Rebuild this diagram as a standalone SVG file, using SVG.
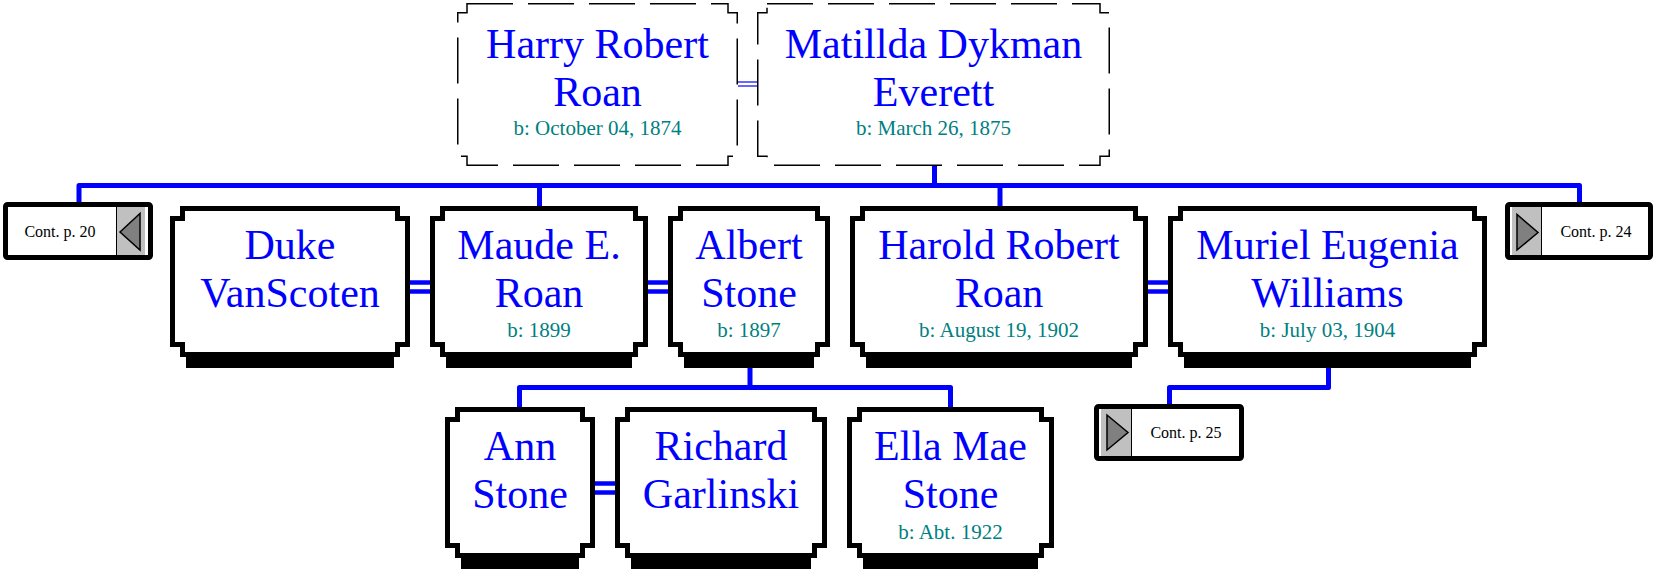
<svg xmlns="http://www.w3.org/2000/svg" width="1655" height="572" viewBox="0 0 1655 572">
<style>
.bx{fill:#fff;stroke:#000;stroke-width:5;stroke-linejoin:miter}
.dbx{fill:#fff;stroke:#000;stroke-width:1.5;stroke-dasharray:46 15}
.sh{fill:#000}
.nm{font-family:"Liberation Serif","Times New Roman",serif;font-size:42px;fill:#0000ff;text-anchor:middle}
.dt{font-family:"Liberation Serif","Times New Roman",serif;font-size:21px;fill:#008080;text-anchor:middle}
.ct{font-family:"Liberation Serif","Times New Roman",serif;font-size:16px;fill:#000;text-anchor:middle}
.cb{fill:#fff;stroke:#000;stroke-width:5}
.gr{fill:#c0c0c0}
.tri{fill:#808080;stroke:#000;stroke-width:1.5}
.ln{fill:none;stroke:#0000ff;stroke-width:5;stroke-linejoin:round}
.mr{fill:none;stroke:#0000ff;stroke-width:4.5}
.mt{fill:none;stroke:#0000ff;stroke-width:1.2}
</style>
<g id="connectors">
<polyline class="ln" points="79,202 79,185.5 1579.5,185.5 1579.5,202"/>
<line class="ln" x1="934.5" y1="166" x2="934.5" y2="185.5"/>
<line class="ln" x1="539.5" y1="185.5" x2="539.5" y2="206"/>
<line class="ln" x1="1000" y1="185.5" x2="1000" y2="206"/>
<line class="ln" x1="750" y1="368" x2="750" y2="387.5"/>
<polyline class="ln" points="519.5,407 519.5,387.5 950.5,387.5 950.5,407"/>
<polyline class="ln" points="1328.5,368 1328.5,387.5 1169.5,387.5 1169.5,404"/>
<line class="mt" x1="738" y1="82" x2="757" y2="82"/>
<line class="mt" x1="738" y1="86" x2="757" y2="86"/>
<line class="mr" x1="410" y1="282.5" x2="430" y2="282.5"/>
<line class="mr" x1="410" y1="291.5" x2="430" y2="291.5"/>
<line class="mr" x1="648" y1="282.5" x2="668" y2="282.5"/>
<line class="mr" x1="648" y1="291.5" x2="668" y2="291.5"/>
<line class="mr" x1="1148" y1="282.5" x2="1168" y2="282.5"/>
<line class="mr" x1="1148" y1="291.5" x2="1168" y2="291.5"/>
<line class="mr" x1="595" y1="483.5" x2="615" y2="483.5"/>
<line class="mr" x1="595" y1="492.5" x2="615" y2="492.5"/>
</g>
<g id="harry">
<path class="dbx" d="M467,3.75 H728 V12.75 H737.25 V156.25 H728 V165.25 H467 V156.25 H457.75 V12.75 H467 Z"/>
<text class="nm" x="597.5" y="58">Harry Robert</text>
<text class="nm" x="597.5" y="106">Roan</text>
<text class="dt" x="597.5" y="135">b: October 04, 1874</text>
</g>
<g id="matilda">
<path class="dbx" d="M767,3.75 H1100 V12.75 H1109.25 V156.25 H1100 V165.25 H767 V156.25 H757.75 V12.75 H767 Z"/>
<text class="nm" x="933.5" y="58">Matillda Dykman</text>
<text class="nm" x="933.5" y="106">Everett</text>
<text class="dt" x="933.5" y="135">b: March 26, 1875</text>
</g>
<g id="cont20">
<rect class="cb" x="5.5" y="204.5" width="145" height="53" rx="2"/>
<rect class="gr" x="116" y="207" width="29" height="48"/>
<line x1="116.5" y1="207" x2="116.5" y2="255" stroke="#000" stroke-width="1"/>
<polygon class="tri" points="120,232 140,213.5 140,250"/>
<text class="ct" x="60" y="237">Cont. p. 20</text>
</g>
<g id="duke">
<rect class="sh" x="186" y="351" width="208" height="17"/>
<path class="bx" d="M182.5,208.5 H397.5 V218.5 H407.5 V344.5 H397.5 V354.5 H182.5 V344.5 H172.5 V218.5 H182.5 Z"/>
<text class="nm" x="290" y="259">Duke</text>
<text class="nm" x="290" y="307">VanScoten</text>
</g>
<g id="maude">
<rect class="sh" x="446" y="351" width="186" height="17"/>
<path class="bx" d="M442.5,208.5 H635.5 V218.5 H645.5 V344.5 H635.5 V354.5 H442.5 V344.5 H432.5 V218.5 H442.5 Z"/>
<text class="nm" x="539" y="259">Maude E.</text>
<text class="nm" x="539" y="307">Roan</text>
<text class="dt" x="539" y="337">b: 1899</text>
</g>
<g id="albert">
<rect class="sh" x="684" y="351" width="130" height="17"/>
<path class="bx" d="M680.5,208.5 H817.5 V218.5 H827.5 V344.5 H817.5 V354.5 H680.5 V344.5 H670.5 V218.5 H680.5 Z"/>
<text class="nm" x="749" y="259">Albert</text>
<text class="nm" x="749" y="307">Stone</text>
<text class="dt" x="749" y="337">b: 1897</text>
</g>
<g id="harold">
<rect class="sh" x="866" y="351" width="266" height="17"/>
<path class="bx" d="M862.5,208.5 H1135.5 V218.5 H1145.5 V344.5 H1135.5 V354.5 H862.5 V344.5 H852.5 V218.5 H862.5 Z"/>
<text class="nm" x="999" y="259">Harold Robert</text>
<text class="nm" x="999" y="307">Roan</text>
<text class="dt" x="999" y="337">b: August 19, 1902</text>
</g>
<g id="muriel">
<rect class="sh" x="1184" y="351" width="287" height="17"/>
<path class="bx" d="M1180.5,208.5 H1474.5 V218.5 H1484.5 V344.5 H1474.5 V354.5 H1180.5 V344.5 H1170.5 V218.5 H1180.5 Z"/>
<text class="nm" x="1327.5" y="259">Muriel Eugenia</text>
<text class="nm" x="1327.5" y="307">Williams</text>
<text class="dt" x="1327.5" y="337">b: July 03, 1904</text>
</g>
<g id="cont24">
<rect class="cb" x="1507.5" y="204.5" width="143" height="53" rx="2"/>
<rect class="gr" x="1512" y="207" width="30" height="48"/>
<line x1="1541.5" y1="207" x2="1541.5" y2="255" stroke="#000" stroke-width="1"/>
<polygon class="tri" points="1517,214.5 1517,250 1538,232.5"/>
<text class="ct" x="1596" y="237">Cont. p. 24</text>
</g>
<g id="ann">
<rect class="sh" x="461" y="552" width="118" height="17"/>
<path class="bx" d="M457.5,409.5 H582.5 V419.5 H592.5 V545.5 H582.5 V555.5 H457.5 V545.5 H447.5 V419.5 H457.5 Z"/>
<text class="nm" x="520" y="460">Ann</text>
<text class="nm" x="520" y="508">Stone</text>
</g>
<g id="richard">
<rect class="sh" x="631" y="552" width="180" height="17"/>
<path class="bx" d="M627.5,409.5 H814.5 V419.5 H824.5 V545.5 H814.5 V555.5 H627.5 V545.5 H617.5 V419.5 H627.5 Z"/>
<text class="nm" x="721" y="460">Richard</text>
<text class="nm" x="721" y="508">Garlinski</text>
</g>
<g id="ella">
<rect class="sh" x="863" y="552" width="175" height="17"/>
<path class="bx" d="M859.5,409.5 H1041.5 V419.5 H1051.5 V545.5 H1041.5 V555.5 H859.5 V545.5 H849.5 V419.5 H859.5 Z"/>
<text class="nm" x="950.5" y="460">Ella Mae</text>
<text class="nm" x="950.5" y="508">Stone</text>
<text class="dt" x="950.5" y="539">b: Abt. 1922</text>
</g>
<g id="cont25">
<rect class="cb" x="1096.5" y="406.5" width="145" height="52" rx="2"/>
<rect class="gr" x="1101" y="409" width="31" height="47"/>
<line x1="1131.5" y1="409" x2="1131.5" y2="456" stroke="#000" stroke-width="1"/>
<polygon class="tri" points="1107,415 1107,450 1128,432.5"/>
<text class="ct" x="1186" y="438">Cont. p. 25</text>
</g>
</svg>
